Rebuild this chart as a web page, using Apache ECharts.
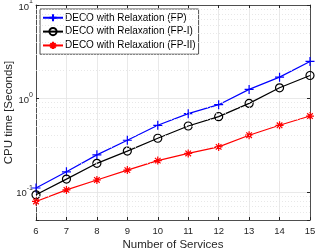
<!DOCTYPE html>
<html>
<head>
<meta charset="utf-8">
<script src="https://cdn.jsdelivr.net/npm/echarts@6/dist/echarts.min.js"></script>
<style>html,body{margin:0;padding:0;background:#fff;}#chart{width:316px;height:249px;}</style>
</head>
<body>
<div id="chart"></div>
<script>
const services = [6, 7, 8, 9, 10, 11, 12, 13, 14, 15];
const fpTime = [0.110, 0.164, 0.249, 0.357, 0.516, 0.687, 0.857, 1.25, 1.69, 2.49];
const fp1Time = [0.093, 0.137, 0.202, 0.273, 0.375, 0.507, 0.638, 0.885, 1.30, 1.76];
const fp2Time = [0.079, 0.105, 0.134, 0.171, 0.216, 0.258, 0.303, 0.404, 0.516, 0.648];
const seriesNames = ['DECO with Relaxation (FP)', 'DECO with Relaxation (FP-I)', 'DECO with Relaxation (FP-II)'];
const yMinorGrid = [0.06, 0.07, 0.08, 0.09, 0.2, 0.3, 0.4, 0.5, 0.6, 0.7, 0.8, 0.9, 2, 3, 4, 5, 6, 7, 8, 9];
const xLabel = 'Number of Services';
const yLabel = 'CPU time [Seconds]';

const axisColor = '#262626';
const font = 'Liberation Sans, Arial, sans-serif';

function pairs(ys) { return services.map((x, i) => [x, ys[i]]); }

const plusPath = 'path://M0,5L10,5M5,0L5,10';
const starPath = 'path://M0,5L10,5M5,0L5,10M1.5,1.5L8.5,8.5M8.5,1.5L1.5,8.5';

function logLabel(v) {
  const l = Math.log10(v);
  const e = Math.round(l);
  if (Math.abs(l - e) > 1e-6) return '';
  return '{b|10}{s|' + e + '}';
}

const chart = echarts.init(document.getElementById('chart'), null, {renderer: 'canvas'});
chart.setOption({
  animation: false,
  backgroundColor: '#fff',
  textStyle: {fontFamily: font},
  grid: {left: 36, right: 6, top: 5, bottom: 29, containLabel: false, outerBoundsMode: 'none'},
  legend: {
    data: seriesNames,
    orient: 'vertical',
    left: 40, top: 9,
    backgroundColor: '#fff',
    borderColor: axisColor, borderWidth: 0.8,
    padding: [3, 3, 3, 2],
    itemWidth: 20, itemHeight: 9, itemGap: 2,
    textStyle: {fontSize: 10, lineHeight: 11.5, color: '#000', fontFamily: font, padding: [0, 0, 0, -3]}
  },
  xAxis: [{
    type: 'value', min: 6, max: 15, interval: 1,
    name: xLabel, nameLocation: 'middle', nameGap: 19, nameMoveOverlap: false,
    nameTextStyle: {fontSize: 11.5, color: axisColor},
    axisLine: {lineStyle: {color: axisColor, width: 0.8}},
    axisTick: {inside: true, length: 3, lineStyle: {color: axisColor}},
    axisLabel: {fontSize: 9.5, color: axisColor, margin: 6},
    splitLine: {show: true, lineStyle: {color: '#e3e3e3', width: 0.8}}
  }, {
    type: 'value', min: 6, max: 15, interval: 1, position: 'top',
    axisLine: {show: true, lineStyle: {color: axisColor, width: 0.8}},
    axisTick: {inside: true, length: 3, lineStyle: {color: axisColor}},
    axisLabel: {show: false}, splitLine: {show: false}
  }],
  yAxis: [{
    type: 'log', logBase: 10, min: 0.05, max: 10,
    name: yLabel, nameLocation: 'middle', nameGap: 21, nameMoveOverlap: false,
    nameTextStyle: {fontSize: 11.5, color: axisColor},
    axisLine: {show: true, lineStyle: {color: axisColor, width: 0.8}},
    axisTick: {inside: true, length: 3, lineStyle: {color: axisColor}},
    axisLabel: {
      formatter: logLabel, margin: 3,
      rich: {
        b: {fontSize: 9.5, color: axisColor, verticalAlign: 'bottom', lineHeight: 14, fontFamily: font},
        s: {fontSize: 7, color: axisColor, verticalAlign: 'top', lineHeight: 14, fontFamily: font}
      }
    },
    splitLine: {show: true, lineStyle: {color: '#e3e3e3', width: 0.8}}
  }, {
    type: 'log', logBase: 10, min: 0.05, max: 10, position: 'right',
    axisLine: {show: true, lineStyle: {color: axisColor, width: 0.8}},
    axisTick: {inside: true, length: 3, lineStyle: {color: axisColor}},
    axisLabel: {show: false}, splitLine: {show: false}
  }],
  series: [{
    type: 'line', name: 'grid-minor', data: [], silent: true,
    markLine: {
      silent: true, symbol: 'none', label: {show: false},
      lineStyle: {color: '#e2e2e2', type: [1, 2], width: 0.8},
      data: yMinorGrid.map(v => ({yAxis: v}))
    }
  }, {
    type: 'line', name: seriesNames[0], data: pairs(fpTime),
    symbol: plusPath, symbolSize: 9,
    lineStyle: {color: '#0000ff', width: 1.2},
    itemStyle: {color: '#0000ff', borderColor: '#0000ff', borderWidth: 1.2}
  }, {
    type: 'line', name: seriesNames[1], data: pairs(fp1Time),
    symbol: 'circle', symbolSize: 8,
    lineStyle: {color: '#000', width: 1.2},
    itemStyle: {color: 'none', borderColor: '#000', borderWidth: 1.2}
  }, {
    type: 'line', name: seriesNames[2], data: pairs(fp2Time),
    symbol: starPath, symbolSize: 8,
    lineStyle: {color: '#ff0000', width: 1.2},
    itemStyle: {color: '#ff0000', borderColor: '#ff0000', borderWidth: 1.2}
  }]
});
</script>
</body>
</html>
